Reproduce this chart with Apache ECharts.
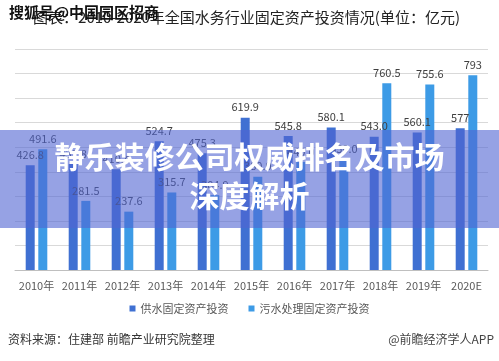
<!DOCTYPE html>
<html><head><meta charset="utf-8">
<script src="https://cdn.jsdelivr.net/npm/echarts@6/dist/echarts.min.js"></script>
<style>html,body{margin:0;padding:0;background:#fff}#c{width:499px;height:361px}</style>
</head><body><div id="c"></div>
<script>
const categories = ['2010年','2011年','2012年','2013年','2014年','2015年','2016年','2017年','2018年','2019年','2020E'];
const supplyValues = [426.8, 431.8, 410.4, 524.7, 475.3, 619.9, 545.8, 580.1, 543.0, 560.1, 577];
const sewageValues = [491.6, 281.5, 237.6, 315.7, 304.9, 380.0, 440.0, 450.0, 760.5, 755.6, 793];
const seriesNames = ['供水固定资产投资', '污水处理固定资产投资'];
const titleText = '图表：2010-2020年全国水务行业固定资产投资情况(单位：亿元)';
const bannerLines = ['静乐装修公司权威排名及市场', '深度解析'];

const font = '"Noto Sans CJK SC","Microsoft YaHei",sans-serif';
const chart = echarts.init(document.getElementById('c'), null, {renderer:'canvas'});
const fmt = p => (Number.isInteger(p.value) && p.dataIndex === categories.length - 1) ? String(p.value) : p.value.toFixed(1);
chart.setOption({
  animation: false,
  textStyle: {fontFamily: font},
  title: {text: titleText, right: 34, top: 5,
    textStyle: {fontSize: 15, fontWeight: 'normal', color: '#222', fontFamily: font}},
  grid: {left: 15, right: 11, top: 49, bottom: 91},
  legend: {data: seriesNames, bottom: 42, left: 'center', itemWidth: 6, itemHeight: 6, itemGap: 20,
    icon: 'rect', textStyle: {fontSize: 11, color: '#595959'}},
  xAxis: {type: 'category', data: categories,
    axisLine: {lineStyle: {color: '#bfbfbf'}}, axisTick: {show: false},
    axisLabel: {fontSize: 11, color: '#595959', margin: 10, interval: 0}},
  yAxis: {type: 'value', min: 0, max: 900, interval: 100,
    axisLabel: {show: false}, axisLine: {show: false}, axisTick: {show: false},
    splitLine: {lineStyle: {color: '#d9d9d9'}}},
  series: [
    {name: seriesNames[0], type: 'bar', data: supplyValues, barWidth: 9, barGap: '40%',
     itemStyle: {color: '#3f70d2'},
     label: {show: true, position: 'top', distance: 5, fontSize: 11, color: '#404040', formatter: fmt}},
    {name: seriesNames[1], type: 'bar', data: sewageValues, barWidth: 9,
     itemStyle: {color: '#3d9be6'},
     label: {show: true, position: 'top', distance: 5, fontSize: 11, color: '#404040', formatter: fmt}}
  ],
  graphic: [
    {type: 'text', left: 9, top: 5, z: 100,
     style: {text: '搜狐号@中国园区招商', fontSize: 15, fontWeight: 'bold', fill: '#111', fontFamily: font}},
    {type: 'rect', left: 0, top: 130, z: 100,
     shape: {width: 499, height: 98}, style: {fill: 'rgba(80,100,210,0.6)'}},
    {type: 'text', left: 'center', top: 142, z: 101,
     style: {text: bannerLines[0], fontSize: 30, fontWeight: 'bold', fill: '#fff', fontFamily: font,
       shadowColor: 'rgba(0,0,0,0.25)', shadowBlur: 3}},
    {type: 'text', left: 'center', top: 181, z: 101,
     style: {text: bannerLines[1], fontSize: 30, fontWeight: 'bold', fill: '#fff', fontFamily: font,
       shadowColor: 'rgba(0,0,0,0.25)', shadowBlur: 3}},
    {type: 'text', left: 8, top: 333, z: 100,
     style: {text: '资料来源：住建部 前瞻产业研究院整理', fontSize: 12, fill: '#333', fontFamily: font}},
    {type: 'text', right: 5, top: 333, z: 100,
     style: {text: '@前瞻经济学人APP', fontSize: 12, fill: '#444', fontFamily: font}}
  ]
});
</script></body></html>
